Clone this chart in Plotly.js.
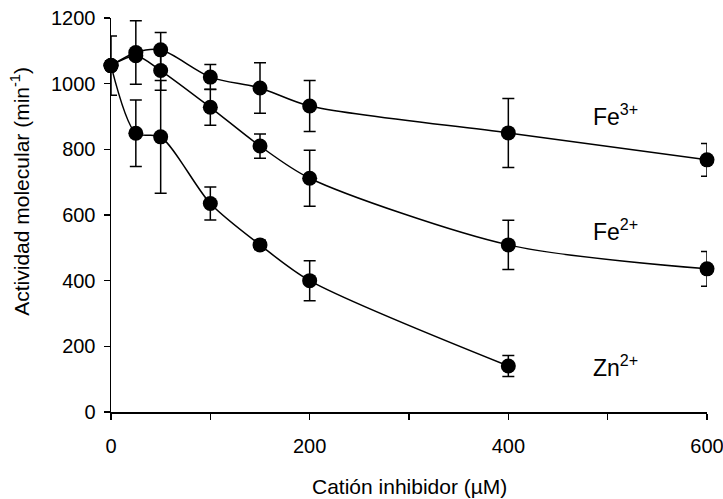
<!DOCTYPE html>
<html>
<head>
<meta charset="utf-8">
<script src="https://cdn.plot.ly/plotly-3.0.1.min.js"></script>
<style>html,body{margin:0;padding:0;background:#fff;}#chart{width:723px;height:499px;}</style>
</head>
<body>
<div id="chart"></div>
<script>
// Data
const fe3X = [0, 25, 50, 100, 150, 200, 400, 600];
const fe3Y = [1055, 1095, 1103, 1020, 987, 932, 850, 768];
const fe3Err = [90, 97, 53, 38, 77, 78, 105, 50];

const fe2X = [0, 25, 50, 100, 150, 200, 400, 600];
const fe2Y = [1055, 1085, 1040, 928, 810, 712, 509, 436];
const fe2Err = [0, 10, 60, 55, 37, 85, 75, 53];

const znX = [0, 25, 50, 100, 150, 200, 400];
const znY = [1055, 849, 838, 635, 509, 400, 140];
const znErr = [0, 101, 172, 50, 14, 61, 32];

const seriesLabels = ['Fe<sup>3+</sup>', 'Fe<sup>2+</sup>', 'Zn<sup>2+</sup>'];
const labelX = [483, 483, 483];
const labelY = [905, 555, 140];

const xTitle = 'Catión inhibidor (µM)';
const yTitle = 'Actividad molecular (min<sup>-1</sup>)';

const FONT = 'Liberation Sans, Arial, sans-serif';

function mk(x, y, err) {
  return {
    x: x, y: y, type: 'scatter', mode: 'lines+markers',
    line: {color: '#000', width: 1.5, shape: 'spline', smoothing: 0.8},
    marker: {color: '#000', size: 15},
    error_y: {type: 'data', array: err, visible: true, color: '#000', thickness: 1.5, width: 6},
    cliponaxis: false, showlegend: false, hoverinfo: 'x+y'
  };
}

const data = [mk(fe3X, fe3Y, fe3Err), mk(fe2X, fe2Y, fe2Err), mk(znX, znY, znErr)];

const annotations = seriesLabels.map((t, i) => ({
  x: labelX[i], y: labelY[i], xref: 'x', yref: 'y', text: t, showarrow: false,
  xanchor: 'left', yanchor: 'middle', font: {family: FONT, size: 23, color: '#000'}
}));
annotations.push({
  x: 0.5, y: -0.19, xref: 'paper', yref: 'paper', text: xTitle, showarrow: false,
  xanchor: 'center', yanchor: 'middle', font: {family: FONT, size: 21, color: '#000'}
});
annotations.push({
  x: -0.152, y: 0.56, xref: 'paper', yref: 'paper', text: yTitle, showarrow: false, textangle: -90,
  xanchor: 'center', yanchor: 'middle', font: {family: FONT, size: 21, color: '#000'}
});

const layout = {
  width: 723, height: 499,
  margin: {l: 111, r: 16, t: 18, b: 87},
  paper_bgcolor: '#fff', plot_bgcolor: '#fff',
  font: {family: FONT, size: 20, color: '#000'},
  xaxis: {
    range: [0, 600], tickvals: [0, 200, 400, 600], ticks: 'outside', ticklen: 6, tickwidth: 1.5,
    tickcolor: '#000', showline: true, linecolor: '#000', linewidth: 1.5, showgrid: false, zeroline: false,
    minor: {tickvals: [100, 300, 500], ticks: 'outside', ticklen: 6, tickwidth: 1.5, tickcolor: '#000', showgrid: false},
    tickfont: {family: FONT, size: 20}, ticklabelstandoff: 9, ticklabeloverflow: 'allow'
  },
  yaxis: {
    range: [0, 1200], tickvals: [0, 200, 400, 600, 800, 1000, 1200], ticks: 'outside', ticklen: 6, tickwidth: 1.5,
    tickcolor: '#000', showline: true, linecolor: '#000', linewidth: 1.5, showgrid: false, zeroline: false,
    tickfont: {family: FONT, size: 20}, ticklabelstandoff: 4
  },
  annotations: annotations
};

Plotly.newPlot('chart', data, layout, {staticPlot: true, displayModeBar: false});
</script>
</body>
</html>
